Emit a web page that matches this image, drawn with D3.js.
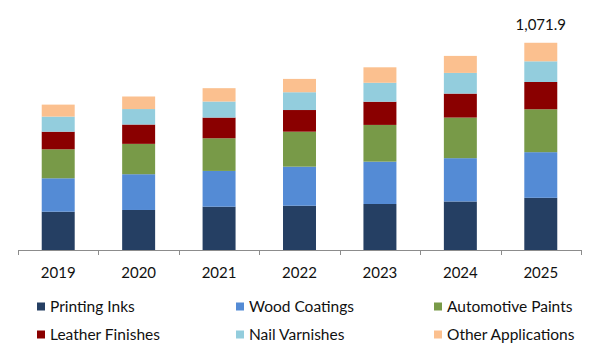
<!DOCTYPE html>
<html><head><meta charset="utf-8">
<script src="https://cdn.jsdelivr.net/npm/d3@7"></script>
<style>
html,body{margin:0;padding:0;background:#fff;}
text{font-family:Lato,"Open Sans",sans-serif;fill:#111;}
</style></head>
<body><svg id="c" width="600" height="360"></svg>
<script>
const years = ["2019","2020","2021","2022","2023","2024","2025"];
const seriesNames = ["Printing Inks","Wood Coatings","Automotive Paints","Leather Finishes","Nail Varnishes","Other Applications"];
const printingInks      = [198, 207, 224, 229, 238, 251, 270];
const woodCoatings      = [173, 185, 185, 202, 219, 224, 236];
const automotivePaints  = [150, 157, 169, 181, 190, 210, 222];
const leatherFinishes   = [91, 100, 107, 112, 120, 124, 141];
const nailVarnishes     = [78, 80, 83, 92, 98, 107, 107];
const otherApplications = [62, 65, 69, 69, 80, 88, 95.9];
const labeledYear = "2025";
const colors = ["#253f63","#548bd5","#789a48","#8a0000","#93cddd","#fbc08f"];

const seriesValues = [printingInks, woodCoatings, automotivePaints, leatherFinishes, nailVarnishes, otherApplications];
const rows = years.map((y,i)=>{const r={year:y}; seriesNames.forEach((s,j)=>r[s]=seriesValues[j][i]); return r;});
const stacked = d3.stack().keys(seriesNames)(rows);

const svg = d3.select("#c");
const x = d3.scaleBand().domain(years).range([18, 581]).padding(0);
const y = d3.scaleLinear().domain([0, 1200]).range([250, 18]);
const barW = x.bandwidth()*0.41;
const color = d3.scaleOrdinal().domain(seriesNames).range(colors);

svg.append("g").selectAll("g").data(stacked).join("g")
  .attr("fill", d=>color(d.key))
  .selectAll("rect").data(d=>d).join("rect")
  .attr("x", d=>x(d.data.year)+x.bandwidth()/2-barW/2)
  .attr("width", barW)
  .attr("y", d=>y(d[1]))
  .attr("height", d=>y(d[0])-y(d[1]));

// axis
const ax = svg.append("g");
ax.append("line").attr("x1",18).attr("x2",581).attr("y1",250.5).attr("y2",250.5).attr("stroke","#8c8c8c");
const bounds = years.map(d=>x(d)).concat([x(years[years.length-1])+x.bandwidth()]);
ax.selectAll("line.t").data(bounds).join("line").attr("class","t")
  .attr("x1",d=>Math.round(d)+0.5).attr("x2",d=>Math.round(d)+0.5).attr("y1",250).attr("y2",255).attr("stroke","#8c8c8c");
ax.selectAll("text").data(years).join("text")
  .attr("x",d=>x(d)+x.bandwidth()/2).attr("y",277.5).attr("text-anchor","middle")
  .style("font-size","15px").text(d=>d);

// total label
const li = years.indexOf(labeledYear);
const total = d3.sum(seriesValues, s=>s[li]);
svg.append("text").attr("x", x(labeledYear)+x.bandwidth()/2).attr("y", y(total)-13)
  .attr("text-anchor","middle").style("font-size","15px").text(d3.format(",.1f")(total));

// legend
const legX = [37, 236, 434];
const legY = [302.5, 330.5];
const leg = svg.append("g").selectAll("g").data(seriesNames).join("g")
  .attr("transform",(d,i)=>`translate(${legX[i%3]},${legY[Math.floor(i/3)]})`);
leg.append("rect").attr("width",8).attr("height",8).attr("fill",d=>color(d));
leg.append("text").attr("x",13).attr("y",9).style("font-size","15.5px").text(d=>d);
</script></body></html>
